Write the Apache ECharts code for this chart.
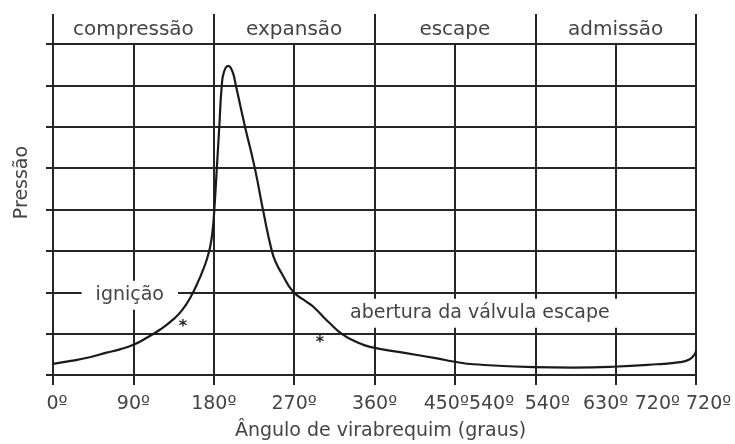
<!DOCTYPE html>
<html>
<head>
<meta charset="utf-8">
<script src="https://cdn.jsdelivr.net/npm/echarts@6/dist/echarts.min.js"></script>
<style>
  html, body { margin: 0; padding: 0; background: #fff; }
  #chart { width: 735px; height: 444px; }
</style>
</head>
<body>
<div id="chart"></div>
<script>
// Four-stroke cycle phases shown in the header band
const phases = ['compressão', 'expansão', 'escape', 'admissão'];

// Tick labels under each 90° gridline
const tickLabels = ['0º', '90º', '180º', '270º', '360º', '450º540º', '540º', '630º', '720º 720º'];

// Cylinder pressure (grid units) against crank angle (degrees)
const crankAngle = [0, 20, 41, 60, 75, 90, 105, 120, 135, 145, 155, 163, 168, 172, 176, 178.5, 180.5, 183.3, 186.2, 188.9, 191.5, 196.3, 201, 205, 215, 226, 235.5, 245, 250, 256, 269, 284, 291.5, 310, 325, 340, 355, 392, 430, 450, 471, 538, 583, 627, 676, 702, 713, 719, 720];
const pressure = [0.27, 0.34, 0.43, 0.54, 0.62, 0.73, 0.9, 1.1, 1.35, 1.58, 1.92, 2.28, 2.54, 2.78, 3.1, 3.45, 3.95, 4.95, 6.0, 6.97, 7.33, 7.47, 7.33, 6.97, 6.0, 5.0, 3.95, 3.0, 2.7, 2.46, 2.01, 1.77, 1.65, 1.25, 0.97, 0.8, 0.68, 0.54, 0.4, 0.32, 0.26, 0.19, 0.18, 0.2, 0.26, 0.31, 0.38, 0.52, 0.6];

// Annotations (anchored in data space)
const noteTexts = ['ignição', 'abertura da válvula escape'];
const noteAngles = [86, 478];
const notePressures = [1.93, 1.49];

// Event markers
const starAngles = [145.6, 299];
const starPressures = [1.26, 0.87];

const FONT = 'DejaVu Sans';
const TEXT = '#444';
const LINE = '#262626';

const chart = echarts.init(document.getElementById('chart'), null, { renderer: 'canvas' });

// Horizontal nudges for the crowded tick labels
const tickShift = { 0: 8, 5: 28, 6: 24, 7: -20, 8: -26 };
const rich = {};
tickLabels.forEach((_, i) => {
  const s = tickShift[i] || 0;
  rich['t' + i] = {
    fontFamily: FONT, fontSize: 19, color: TEXT,
    padding: s >= 0 ? [0, 0, 0, s] : [0, -s, 0, 0]
  };
});

const option = {
  animation: false,
  backgroundColor: '#fff',
  grid: [
    { left: 53, right: 39, top: 44, height: 331, containLabel: false, outerBoundsMode: 'none' },
    { left: 53, right: 39, top: 14, height: 30, containLabel: false, outerBoundsMode: 'none' }
  ],
  xAxis: [
    {
      gridIndex: 0, type: 'value', min: 0, max: 720, interval: 90,
      name: 'Ângulo de virabrequim (graus)', nameLocation: 'middle', nameGap: 47,
      nameTextStyle: { fontFamily: FONT, fontSize: 19, color: TEXT, padding: [0, 0, 0, 12] },
      axisLine: { show: true, lineStyle: { color: LINE, width: 2 } },
      axisTick: { show: true, length: 10, lineStyle: { color: LINE, width: 2 } },
      splitLine: { show: true, lineStyle: { color: LINE, width: 2 } },
      axisLabel: {
        margin: 20, hideOverlap: false, showMinLabel: true, showMaxLabel: true,
        fontFamily: FONT, fontSize: 19, color: TEXT,
        formatter: v => {
          const i = Math.round(v / 90);
          return '{t' + i + '|' + tickLabels[i] + '}';
        },
        rich: rich
      }
    },
    {
      gridIndex: 1, type: 'category', data: phases, boundaryGap: true,
      axisLine: { show: false }, axisTick: { show: false },
      splitLine: { show: true, interval: 0, lineStyle: { color: LINE, width: 2 } },
      axisLabel: { inside: true, margin: 4, interval: 0, fontFamily: FONT, fontSize: 20, color: TEXT }
    }
  ],
  yAxis: [
    {
      gridIndex: 0, type: 'value', min: 0, max: 8, interval: 1,
      name: 'Pressão', nameLocation: 'middle', nameGap: 21,
      nameTextStyle: { fontFamily: FONT, fontSize: 19, color: TEXT, padding: [0, 0, 0, 54] },
      axisLine: { show: true, lineStyle: { color: LINE, width: 2 } },
      axisTick: { show: true, length: 7, lineStyle: { color: LINE, width: 2 } },
      axisLabel: { show: false },
      splitLine: { show: true, lineStyle: { color: LINE, width: 2 } }
    },
    { gridIndex: 1, type: 'value', min: 0, max: 1, show: false }
  ],
  series: [
    {
      type: 'line', xAxisIndex: 0, yAxisIndex: 0,
      data: crankAngle.map((a, i) => [a, pressure[i]]),
      smooth: 0.5, showSymbol: false, symbol: 'none',
      lineStyle: { color: '#1a1a1a', width: 2.2 },
      z: 3
    },
    {
      type: 'scatter', xAxisIndex: 0, yAxisIndex: 0,
      data: noteTexts.map((t, i) => ({ name: t, value: [noteAngles[i], notePressures[i]] })),
      symbolSize: 1, itemStyle: { color: 'rgba(0,0,0,0)', opacity: 1 },
      label: {
        show: true, position: 'inside', formatter: p => p.name, opacity: 1,
        fontFamily: FONT, fontSize: 19, color: TEXT,
        backgroundColor: '#fff', padding: [5, 14]
      },
      z: 4, silent: true
    },
    {
      type: 'scatter', xAxisIndex: 0, yAxisIndex: 0,
      data: starAngles.map((a, i) => [a, starPressures[i]]),
      symbolSize: 1, itemStyle: { color: 'rgba(0,0,0,0)', opacity: 1 },
      label: {
        show: true, position: 'inside', formatter: '*', opacity: 1,
        fontFamily: FONT, fontSize: 16, fontWeight: 'bold', color: '#222', offset: [0, 4]
      },
      z: 5, silent: true
    }
  ]
};

chart.setOption(option);
</script>
</body>
</html>
